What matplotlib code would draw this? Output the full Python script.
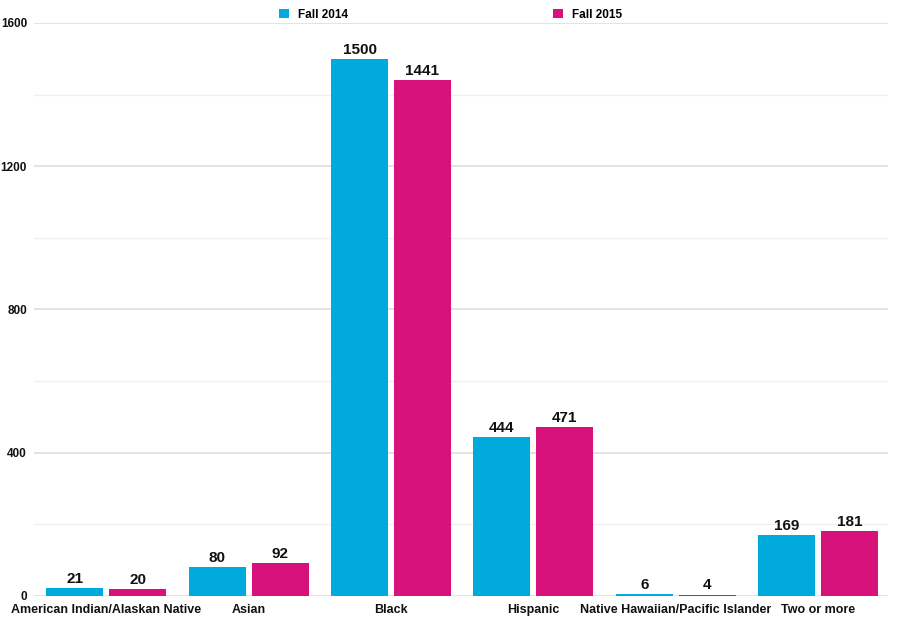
import matplotlib.pyplot as plt
import numpy as np
from matplotlib.patches import Patch

categories = ["American Indian/Alaskan Native", "Asian", "Black", "Hispanic",
              "Native Hawaiian/Pacific Islander", "Two or more"]
fall_2014 = [21, 80, 1500, 444, 6, 169]
fall_2015 = [20, 92, 1441, 471, 4, 181]
series_names = ["Fall 2014", "Fall 2015"]
colors = ["#01aadd", "#d7127b"]


def main():
    plt.rcParams["font.family"] = ["Liberation Sans", "DejaVu Sans"]
    fig = plt.figure(figsize=(9, 6.29), dpi=100)
    ax = fig.add_axes([0.0378, 0.0525, 0.949, 0.911])

    x = np.arange(len(categories))
    w = 0.40
    off = 0.221
    for vals, col, sign in [(fall_2014, colors[0], -1), (fall_2015, colors[1], 1)]:
        bars = ax.bar(x + sign * off, vals, width=w, color=col, zorder=3)
        for b, v in zip(bars, vals):
            ax.annotate(str(v), (b.get_x() + b.get_width() / 2, v),
                        xytext=(0, 1.5), textcoords="offset points",
                        ha="center", va="bottom", fontsize=11,
                        fontweight="bold", color="#111111")

    ax.set_xlim(-0.506, 5.49)
    ax.set_ylim(0, 1600)
    ax.set_yticks([0, 400, 800, 1200, 1600])
    ax.set_yticks([200, 600, 1000, 1400], minor=True)
    ax.grid(axis="y", which="major", color="#dedede", linewidth=1.2, zorder=0)
    ax.grid(axis="y", which="minor", color="#f0f0f0", linewidth=1.0, zorder=0)
    ax.set_xticks(x)
    ax.set_xticklabels(categories)
    ax.tick_params(axis="x", length=0, pad=6, labelsize=9)
    ax.tick_params(axis="y", which="both", length=0, pad=5, labelsize=8.5)
    for lab in ax.get_xticklabels() + ax.get_yticklabels():
        lab.set_fontweight("bold")
        lab.set_color("#111111")
    for s in ax.spines.values():
        s.set_visible(False)

    handles = [Patch(facecolor=c, label=n) for c, n in zip(colors, series_names)]
    ax.legend(handles=handles, ncol=2, loc="center",
              bbox_to_anchor=(0.488, 1.014), frameon=False,
              columnspacing=17.4, handlelength=0.8, handleheight=0.8,
              handletextpad=0.8, borderaxespad=0, borderpad=0,
              prop={"weight": "bold", "size": 8.5})

    fig.savefig("out.png", dpi=100)


if __name__ == "__main__":
    main()
